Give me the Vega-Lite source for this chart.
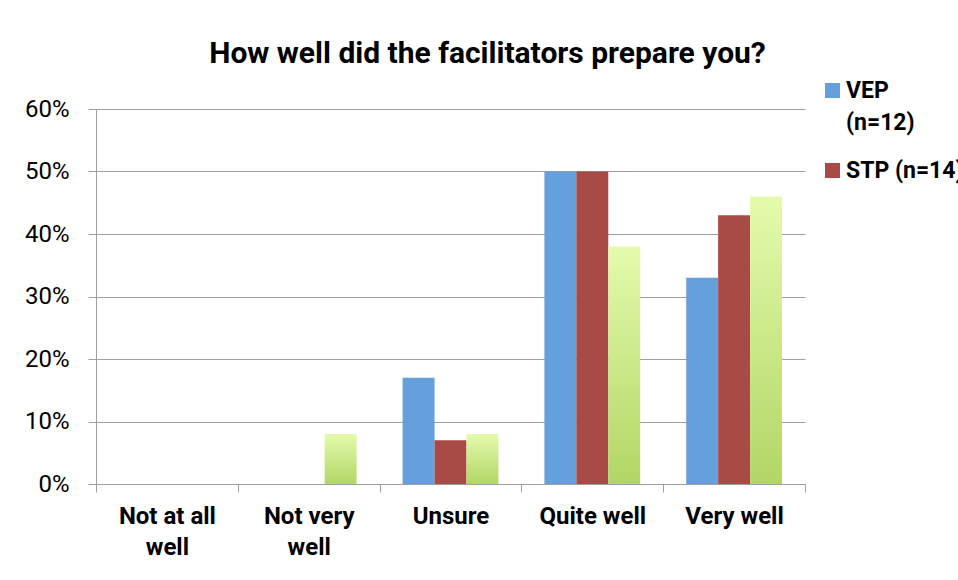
{
  "$schema": "https://vega.github.io/schema/vega-lite/v6.json",
  "autosize": {"type": "none"},
  "width": 709,
  "height": 375,
  "padding": {"left": 96, "top": 109, "right": 153, "bottom": 96},
  "background": "white",
  "title": {
    "text": "How well did the facilitators prepare you?",
    "font": "Roboto",
    "fontSize": 30,
    "fontWeight": "bold",
    "color": "black",
    "anchor": "middle",
    "dx": 37,
    "offset": 10
  },
  "data": {
    "values": [
      {"rating": "Not at all well", "series": "VEP (n=12)", "pct": 0},
      {"rating": "Not at all well", "series": "STP (n=14)", "pct": 0},
      {"rating": "Not at all well", "series": "Other", "pct": 0},
      {"rating": "Not very well", "series": "VEP (n=12)", "pct": 0},
      {"rating": "Not very well", "series": "STP (n=14)", "pct": 0},
      {"rating": "Not very well", "series": "Other", "pct": 0.08},
      {"rating": "Unsure", "series": "VEP (n=12)", "pct": 0.17},
      {"rating": "Unsure", "series": "STP (n=14)", "pct": 0.07},
      {"rating": "Unsure", "series": "Other", "pct": 0.08},
      {"rating": "Quite well", "series": "VEP (n=12)", "pct": 0.50},
      {"rating": "Quite well", "series": "STP (n=14)", "pct": 0.50},
      {"rating": "Quite well", "series": "Other", "pct": 0.38},
      {"rating": "Very well", "series": "VEP (n=12)", "pct": 0.33},
      {"rating": "Very well", "series": "STP (n=14)", "pct": 0.43},
      {"rating": "Very well", "series": "Other", "pct": 0.46}
    ]
  },
  "mark": {"type": "bar"},
  "encoding": {
    "x": {
      "field": "rating",
      "type": "nominal",
      "sort": ["Not at all well", "Not very well", "Unsure", "Quite well", "Very well"],
      "scale": {"paddingInner": 0, "paddingOuter": 0},
      "axis": {
        "title": null,
        "labelAngle": 0,
        "labelFont": "Roboto",
        "labelFontSize": 24,
        "labelFontWeight": "bold",
        "labelColor": "black",
        "labelPadding": 12,
        "labelLineHeight": 31,
        "labelBaseline": "top",
        "labelExpr": "datum.label == 'Not at all well' ? ['Not at all', 'well'] : datum.label == 'Not very well' ? ['Not very', 'well'] : datum.label",
        "tickBand": "extent",
        "tickSize": 8,
        "tickColor": "#a0a0a0",
        "domainColor": "#a0a0a0",
        "grid": false
      }
    },
    "xOffset": {
      "field": "series",
      "type": "nominal",
      "sort": ["VEP (n=12)", "STP (n=14)", "Other"],
      "scale": {"paddingInner": 0, "paddingOuter": 0.72}
    },
    "y": {
      "field": "pct",
      "type": "quantitative",
      "scale": {"domain": [0, 0.6], "nice": false},
      "axis": {
        "title": null,
        "format": ".0%",
        "values": [0, 0.1, 0.2, 0.3, 0.4, 0.5, 0.6],
        "labelFont": "Roboto",
        "labelFontSize": 24,
        "labelColor": "black",
        "labelPadding": 19,
        "tickSize": 8,
        "tickColor": "#a0a0a0",
        "domainColor": "#a0a0a0",
        "gridColor": "#a0a0a0",
        "gridWidth": 1.2
      }
    },
    "fill": {
      "condition": {
        "test": "datum.series === 'Other'",
        "value": {
          "gradient": "linear",
          "x1": 0, "y1": 0, "x2": 0, "y2": 1,
          "stops": [
            {"offset": 0, "color": "#e4fbad"},
            {"offset": 1, "color": "#b2d665"}
          ]
        }
      },
      "field": "series",
      "type": "nominal",
      "scale": {
        "domain": ["VEP (n=12)", "STP (n=14)", "Other"],
        "range": ["#659fdc", "#a84a45", "#c8e888"]
      },
      "legend": {
        "values": ["VEP (n=12)", "STP (n=14)"],
        "title": null,
        "orient": "none",
        "legendX": 725,
        "legendY": -30,
        "symbolType": "square",
        "symbolSize": 225,
        "symbolStrokeWidth": 0,
        "symbolOpacity": 1,
        "labelFont": "Roboto",
        "labelFontSize": 23,
        "labelFontWeight": "bold",
        "labelColor": "black",
        "labelLimit": 300,
        "labelOffset": 2,
        "rowPadding": 24,
        "labelBaseline": "middle",
        "labelExpr": "datum.label == 'VEP (n=12)' ? ['VEP', '(n=12)'] : datum.label",
        "encode": {"labels": {"update": {"lineHeight": {"value": 32}}}}
      }
    }
  },
  "config": {
    "view": {"stroke": null}
  }
}
